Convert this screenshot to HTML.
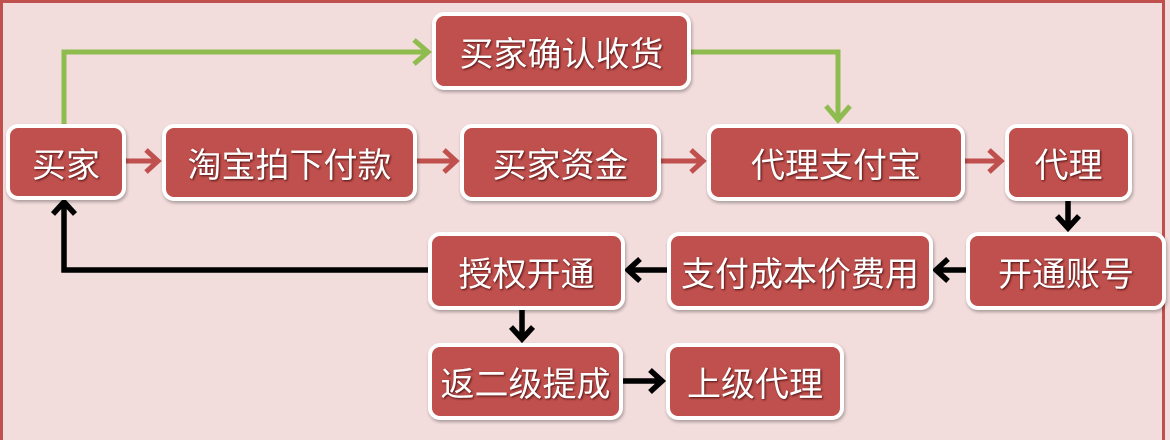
<!DOCTYPE html>
<html><head><meta charset="utf-8"><style>
body{margin:0;width:1170px;height:429px;overflow:hidden;background:#f2dcdc;position:relative;font-family:"Liberation Sans","Noto Sans CJK SC",sans-serif}
.frame{position:absolute;left:0;top:0;width:1165px;height:440px;border:3px solid #c0504d;border-bottom:none;box-sizing:border-box}
.b{position:absolute;background:#c0504d;border:4px solid #fff;border-radius:12px;box-sizing:border-box;color:#fff;font-size:34px;display:flex;align-items:center;justify-content:center;text-shadow:1px 1px 2px #4a1010;box-shadow:1px 2px 3px rgba(0,0,0,.3)}
svg{position:absolute;left:0;top:0}
</style></head><body>
<div class="frame"></div>
<svg width="1170" height="429">
<g stroke="#c0504d" stroke-width="5" fill="none">
<path d="M125 161H158M146 150l12 11-12 11"/>
<path d="M416 161H456M444 150l12 11-12 11"/>
<path d="M660 161H703M691 150l12 11-12 11"/>
<path d="M964 161H1001M989 150l12 11-12 11"/>
</g>
<g stroke="#8fbc4f" stroke-width="5" fill="none">
<path d="M64 124V52H428M414 40l14 12-14 12"/>
<path d="M690 52H838V120M826 106l12 14 12-14"/>
</g>
<g stroke="#000" stroke-width="5.5" fill="none">
<path d="M1068 200V228M1057 216l11 12 11-12"/>
<path d="M967 270H936M948 259l-12 11 12 11"/>
<path d="M668 270H628M640 259l-12 11 12 11"/>
<path d="M428 270H64V202M53 214l11-12 11 12"/>
<path d="M522 310V339M511 327l11 12 11-12"/>
<path d="M622 381H662M650 370l12 11-12 11"/>
</g>
</svg>
<div class="b" style="left:6px;top:124px;width:120px;height:76px">买家</div>
<div class="b" style="left:162px;top:124px;width:255px;height:77px">淘宝拍下付款</div>
<div class="b" style="left:460px;top:124px;width:201px;height:77px">买家资金</div>
<div class="b" style="left:707px;top:124px;width:258px;height:77px">代理支付宝</div>
<div class="b" style="left:1005px;top:124px;width:127px;height:77px">代理</div>
<div class="b" style="left:432px;top:12px;width:259px;height:78px">买家确认收货</div>
<div class="b" style="left:966px;top:232px;width:200px;height:78px">开通账号</div>
<div class="b" style="left:667px;top:232px;width:266px;height:78px">支付成本价费用</div>
<div class="b" style="left:428px;top:232px;width:197px;height:78px">授权开通</div>
<div class="b" style="left:428px;top:343px;width:195px;height:77px">返二级提成</div>
<div class="b" style="left:666px;top:343px;width:178px;height:77px">上级代理</div>
</body></html>
